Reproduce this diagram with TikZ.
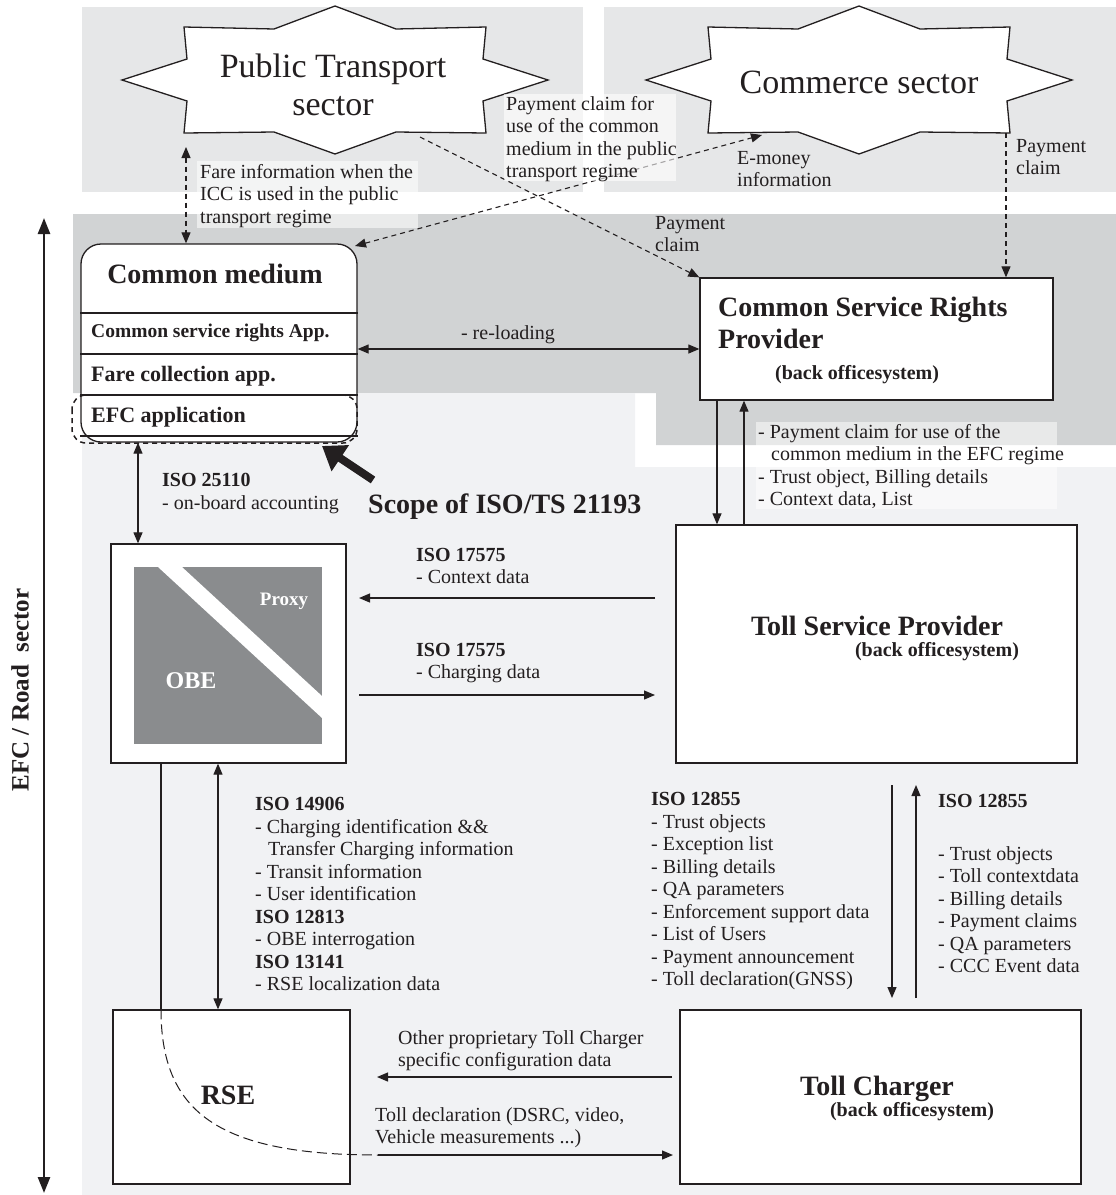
\documentclass[tikz,border=0pt]{standalone}
\usepackage{fontspec}
\setmainfont{Liberation Serif}
\usetikzlibrary{arrows.meta,calc}
\newcommand\myfs[2]{\fontsize{#1}{#2}\selectfont}
\definecolor{bgtop}{HTML}{E6E7E8}
\definecolor{bgmid}{HTML}{D1D3D4}
\definecolor{bglow}{HTML}{F1F2F4}
\definecolor{obegray}{HTML}{8A8C8E}
\definecolor{ink}{HTML}{231F20}
\begin{document}
\begin{tikzpicture}[x=1pt,y=-1pt,
  >={Triangle[length=11pt,width=9pt]},
  con/.style={line width=1.2pt, draw=ink},
  dsh/.style={con, line width=1.1pt, dash pattern=on 5pt off 4pt},
  txt/.style={anchor=north west, inner sep=0pt, align=left, text=ink, font=\myfs{20}{22.5}},
  box/.style={draw=ink, line width=1.3pt, fill=white, inner sep=0pt},
  ttl/.style={inner sep=0pt, text=ink, font=\bfseries\myfs{28}{32}},
  sub/.style={inner sep=0pt, text=ink, font=\bfseries\myfs{20}{22}},
  starsh/.style={draw=ink, line width=1.3pt, fill=white},
  lblbg/.style={fill=white, fill opacity=0.55}
  ]
\useasboundingbox (0,0) rectangle (1116,1195);
% backgrounds
\fill[bgtop] (82,7) rectangle (583,192);
\fill[bgtop] (604,7) rectangle (1116,192);
\fill[bgmid] (73,214) -- (1116,214) -- (1116,445) -- (656,445) -- (656,393) -- (73,393) -- cycle;
\fill[bglow] (82,393) -- (635,393) -- (635,467) -- (1116,467) -- (1116,1195) -- (82,1195) -- cycle;

% stars
\draw[starsh, shift={(335,80)}] (0,-74) -- (61,-51) -- (151,-53) -- (148,-21) -- (213,0) -- (148,21) -- (151,53) -- (61,52) -- (0,74) -- (-61,52) -- (-151,53) -- (-148,21) -- (-213,0) -- (-148,-21) -- (-151,-53) -- (-61,-51) -- cycle;
\draw[starsh, shift={(859,80)}] (0,-74) -- (61,-51) -- (151,-53) -- (148,-21) -- (213,0) -- (148,21) -- (151,53) -- (61,52) -- (0,74) -- (-61,52) -- (-151,53) -- (-148,21) -- (-213,0) -- (-148,-21) -- (-151,-53) -- (-61,-51) -- cycle;
\node[inner sep=0pt, align=center, text=ink, font=\myfs{34}{38}] (pt) at (333,85) {Public Transport\\sector};
\node[inner sep=0pt, text=ink, font=\myfs{34}{38}] (com) at (859,82) {Commerce sector};

% boxes
\node[box, rounded corners=20pt, minimum width=276pt, minimum height=198pt] (cm) at (219,343) {};
\node[box, minimum width=353pt, minimum height=122pt] (csrp) at (876.5,339) {};
\node[box, minimum width=401pt, minimum height=238pt] (tsp) at (876.5,644) {};
\node[box, minimum width=235pt, minimum height=219pt] (obe) at (228.5,653.5) {};
\node[box, minimum width=237pt, minimum height=174pt] (rse) at (231.5,1097) {};
\node[box, minimum width=401pt, minimum height=174pt] (tc) at (880.5,1097) {};

% common medium rows
\draw[con, line width=1.3pt] (cm.west |- 0,313) -- (cm.east |- 0,313);
\draw[con, line width=2pt] (cm.west |- 0,354) -- (cm.east |- 0,354);
\draw[con, line width=2pt] (cm.west |- 0,395) -- (cm.east |- 0,395);
\draw[con, line width=1.3pt] (cm.west |- 0,436) -- (cm.east |- 0,436);
\draw[dsh, line width=1.5pt, rounded corners=14pt] (72,395) rectangle (357,443);
\node[ttl] (cmt) at (215,274) {Common medium};
\node[anchor=west, inner sep=0pt, text=ink, font=\bfseries\myfs{19.5}{22}] (csra) at (91,333) {Common service rights App.};
\node[anchor=west, inner sep=0pt, text=ink, font=\bfseries\myfs{22}{24}] (fca) at (91,376) {Fare collection app.};
\node[anchor=west, inner sep=0pt, text=ink, font=\bfseries\myfs{22}{24}] (efca) at (91,417) {EFC application};

% OBE inner
\fill[obegray] (134,567) rectangle (322,744);
\fill[white] (158,567) -- (182,567) -- (322,696) -- (322,718) -- cycle;
\node[inner sep=0pt, text=white, font=\bfseries\myfs{19}{22}] (proxy) at (284,601) {Proxy};
\node[inner sep=0pt, text=white, font=\bfseries\myfs{24}{26}] (obet) at (191,681) {OBE};

% box titles
\node[txt, font=\bfseries\myfs{28}{32}] (csrpt) at (718,297) {Common Service Rights\\Provider};
\node[sub, anchor=west] (csrpb) at (775,375) {(back officesystem)};
\node[ttl] (tspt) at (877,626) {Toll Service Provider};
\node[sub] (tspb) at (937,652) {(back officesystem)};
\node[ttl] (rset) at (228,1095) {RSE};
\node[ttl] (tct) at (877,1089) {Toll Charger};
\node[sub] (tcb) at (912,1112) {(back officesystem)};

% coordinates for connectors
\coordinate (fareA) at (186,147);
\coordinate (ptOut) at (420,137);
\coordinate (comIn) at (762,135);
\coordinate (cmIn) at (355,246);
\coordinate (comOut) at (1006,133);
\coordinate (rl) at (0,349);
\coordinate (dnX) at (717,0);
\coordinate (upX) at (744,0);
\coordinate (obX) at (138,0);
\coordinate (ctxA) at (655,598);
\coordinate (ctxB) at (359,598);
\coordinate (chgA) at (359,695);
\coordinate (chgB) at (655,695);
\coordinate (orX) at (218,0);
\coordinate (crvX) at (161,0);
\coordinate (crvB) at (378,1155);
\coordinate (crvC) at (673,1155);
\coordinate (ttA) at (892,785);
\coordinate (ttB) at (892,998);
\coordinate (ttC) at (916,998);
\coordinate (ttD) at (916,785);
\coordinate (tcA) at (672,1077);
\coordinate (tcB) at (377,1077);
\coordinate (efcA) at (44,218);
\coordinate (efcB) at (44,1193);
\coordinate (fatA) at (373,480);
\coordinate (fatB) at (322,446);

% dashed connectors
\draw[dsh, <->] (fareA) -- (fareA |- cm.north);
\draw[dsh, ->] (ptOut) -- (csrp.north west);
\draw[dsh, <->] (cmIn) -- (comIn);
\draw[dsh, ->] (comOut) -- (comOut |- csrp.north);

% solid connectors
\draw[con, <->] (cm.east |- rl) -- (csrp.west |- rl);
\draw[con, ->] (csrp.south -| dnX) -- (tsp.north -| dnX);
\draw[con, ->] (tsp.north -| upX) -- (csrp.south -| upX);
\draw[con, <->] (cm.south -| obX) -- (obe.north -| obX);
\draw[con, ->] (ctxA) -- (ctxB);
\draw[con, ->] (chgA) -- (chgB);
\draw[con, <->] (obe.south -| orX) -- (rse.north -| orX);
\draw[con] (obe.south -| crvX) -- (rse.north -| crvX);
\draw[con, line width=1pt, dash pattern=on 10pt off 5pt] (rse.north -| crvX) .. controls (161,1110) and (215,1155) .. (crvB);
\draw[con, ->] (crvB) -- (crvC);
\draw[con, ->] (ttA) -- (ttB);
\draw[con, ->] (ttC) -- (ttD);
\draw[con, ->] (tcA) -- (tcB);
\draw[line width=2.5pt, draw=ink, {Triangle[length=16pt,width=12pt]}-{Triangle[length=16pt,width=12pt]}] (efcA) -- (efcB);
\draw[line width=8pt, draw=ink, -{Triangle[length=22pt,width=30pt]}] (fatA) -- (fatB);

% label backgrounds
\fill[lblbg] (197,161) rectangle (418,228);
\fill[lblbg, fill opacity=0.6] (504,94) rectangle (676,181);
\fill[lblbg, fill opacity=0.5] (756,422) rectangle (1057,509);

% labels
\node[txt] (fare) at (200,164) {Fare information when the\\ICC is used in the public\\transport regime};
\node[txt] (pcl) at (506,96) {Payment claim for\\use of the common\\medium in the public\\transport regime};
\node[txt] (emon) at (737,151) {E-money\\information};
\node[txt] (pcl1) at (1016,139) {Payment\\claim};
\node[txt] (pcl2) at (655,216) {Payment\\claim};
\node[txt, anchor=center] (reload) at (508,335) {- re-loading};
\node[txt] (cslbl) at (758,424) {- Payment claim for use of the\\\hspace*{13pt}common medium in the EFC regime\\- Trust object, Billing details\\- Context data, List};
\node[txt] (iso25) at (162,473) {\textbf{ISO 25110}\\- on-board accounting};
\node[anchor=west, inner sep=0pt, text=ink, font=\bfseries\myfs{28}{32}] (scope) at (368,507) {Scope of ISO/TS 21193};
\node[txt] (ctxl) at (416,548) {\textbf{ISO 17575}\\- Context data};
\node[txt] (chgl) at (416,643) {\textbf{ISO 17575}\\- Charging data};
\node[txt] (iso149) at (255,797) {\textbf{ISO 14906}\\- Charging identification \&\&\\\hspace*{13pt}Transfer Charging information\\- Transit information\\- User identification\\\textbf{ISO 12813}\\- OBE interrogation\\\textbf{ISO 13141}\\- RSE localization data};
\node[txt] (iso128a) at (651,792) {\textbf{ISO 12855}\\- Trust objects\\- Exception list\\- Billing details\\- QA parameters\\- Enforcement support data\\- List of Users\\- Payment announcement\\- Toll declaration(GNSS)};
\node[txt] (iso128b) at (938,794) {\textbf{ISO 12855}};
\node[txt] (iso128c) at (938,846) {- Trust objects\\- Toll contextdata\\- Billing details\\- Payment claims\\- QA parameters\\- CCC Event data};
\node[txt] (othl) at (398,1030) {Other proprietary Toll Charger\\specific configuration data};
\node[txt] (tdl) at (375,1107) {Toll declaration (DSRC, video,\\Vehicle measurements ...)};
\node[rotate=90, inner sep=0pt, text=ink, font=\bfseries\myfs{25}{28}] (efc) at (20,690) {EFC / Road\ \ sector};
\end{tikzpicture}
\end{document}
